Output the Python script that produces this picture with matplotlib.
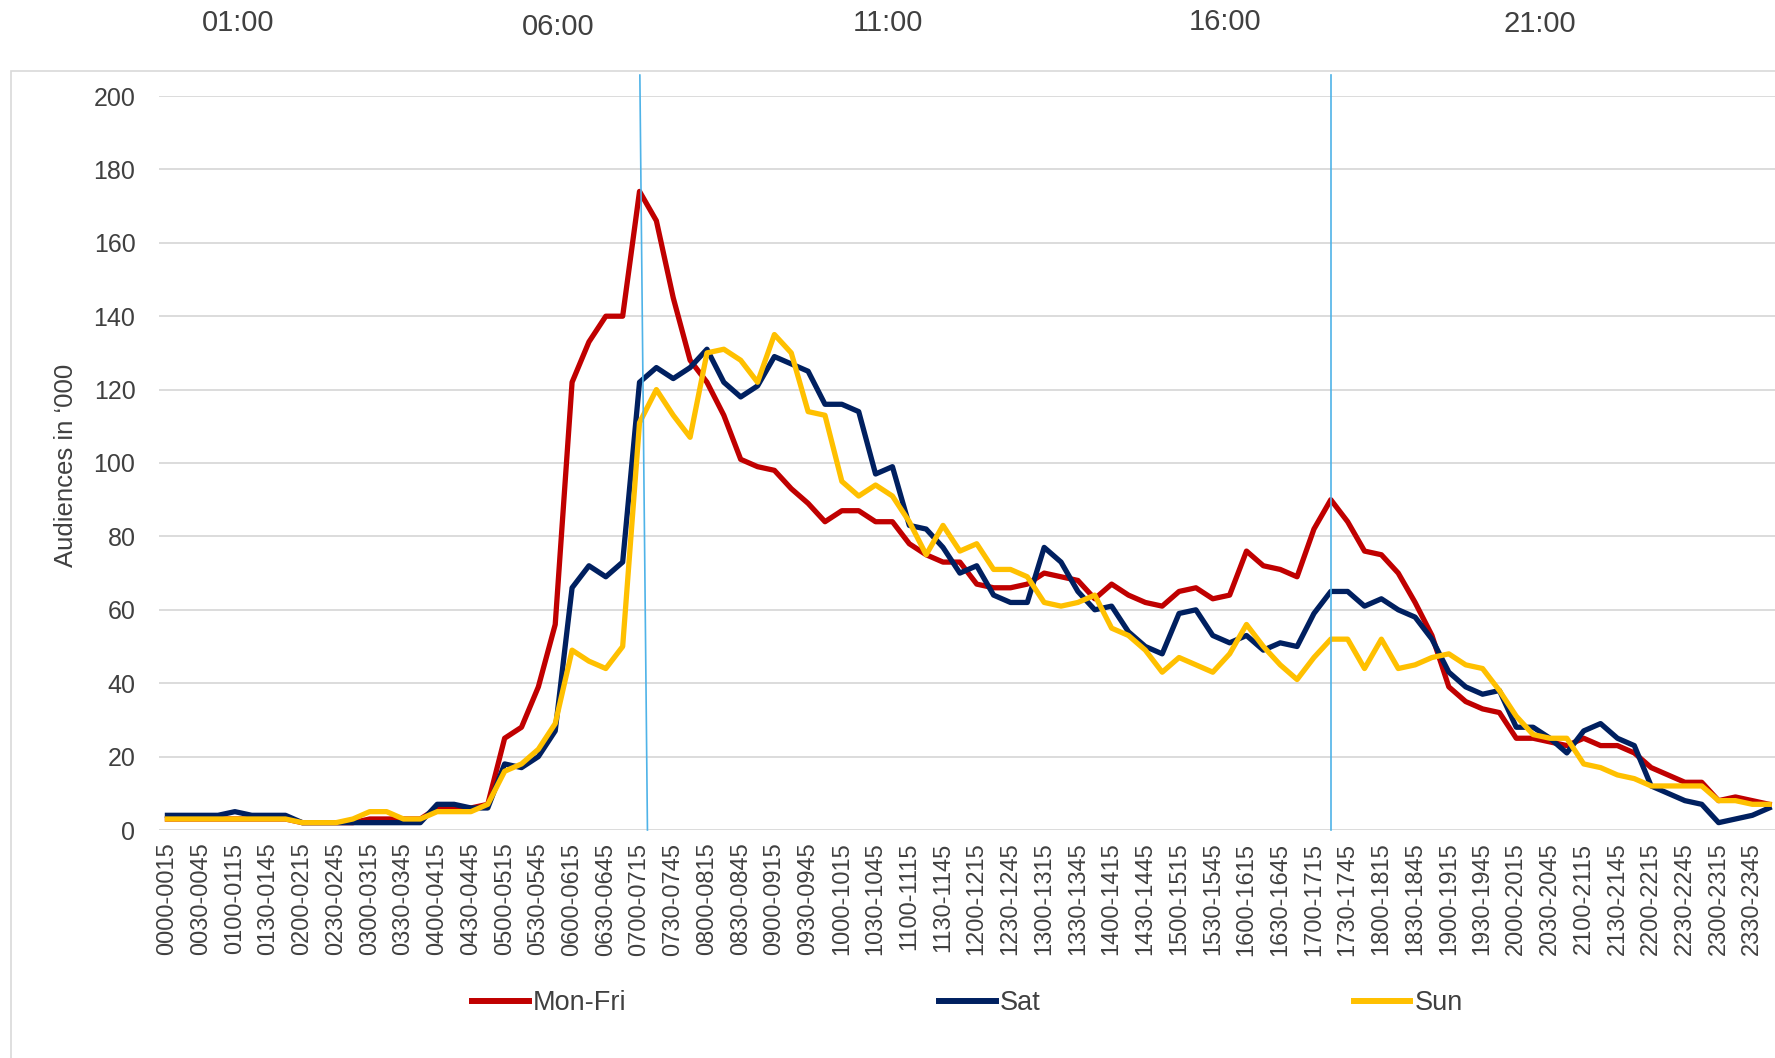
import matplotlib
matplotlib.use("Agg")
import matplotlib.pyplot as plt
from matplotlib import font_manager
from matplotlib.patches import Rectangle

# quarter-hour slots, 0000-0015 ... 2345-2400
slots = ["%02d%02d-%02d%02d" % (h, m, h + (m + 15) // 60, (m + 15) % 60)
         for h in range(24) for m in (0, 15, 30, 45)]
slots[-1] = "2345-2400"

mon_fri = [3, 3, 3, 3, 3, 3, 3, 3, 2, 2, 2, 2, 3, 3, 3, 3,
           6, 6, 6, 7, 25, 28, 39, 56, 122, 133, 140, 140, 174, 166, 145, 128,
           122, 113, 101, 99, 98, 93, 89, 84, 87, 87, 84, 84, 78, 75, 73, 73,
           67, 66, 66, 67, 70, 69, 68, 63, 67, 64, 62, 61, 65, 66, 63, 64,
           76, 72, 71, 69, 82, 90, 84, 76, 75, 70, 62, 53, 39, 35, 33, 32,
           25, 25, 24, 23, 25, 23, 23, 21, 17, 15, 13, 13, 8, 9, 8, 7]
sat = [4, 4, 4, 4, 5, 4, 4, 4, 2, 2, 2, 2, 2, 2, 2, 2,
       7, 7, 6, 6, 18, 17, 20, 27, 66, 72, 69, 73, 122, 126, 123, 126,
       131, 122, 118, 121, 129, 127, 125, 116, 116, 114, 97, 99, 83, 82, 77, 70,
       72, 64, 62, 62, 77, 73, 65, 60, 61, 54, 50, 48, 59, 60, 53, 51,
       53, 49, 51, 50, 59, 65, 65, 61, 63, 60, 58, 52, 43, 39, 37, 38,
       28, 28, 25, 21, 27, 29, 25, 23, 12, 10, 8, 7, 2, 3, 4, 6]
sun = [3, 3, 3, 3, 3, 3, 3, 3, 2, 2, 2, 3, 5, 5, 3, 3,
       5, 5, 5, 7, 16, 18, 22, 29, 49, 46, 44, 50, 111, 120, 113, 107,
       130, 131, 128, 122, 135, 130, 114, 113, 95, 91, 94, 91, 84, 75, 83, 76,
       78, 71, 71, 69, 62, 61, 62, 64, 55, 53, 49, 43, 47, 45, 43, 48,
       56, 50, 45, 41, 47, 52, 52, 44, 52, 44, 45, 47, 48, 45, 44, 38,
       31, 26, 25, 25, 18, 17, 15, 14, 12, 12, 12, 12, 8, 8, 7, 7]

hour_labels = ["01:00", "06:00", "11:00", "16:00", "21:00"]
hour_label_px = [(238, 23), (558, 27), (888, 23), (1225, 22), (1540, 24)]

names = {f.name for f in font_manager.fontManager.ttflist}
if "Liberation Sans Narrow" in names:
    narrow, narrow_size = "Liberation Sans Narrow", 26
else:
    narrow, narrow_size = "Liberation Sans", 21

plt.rcParams["font.family"] = ["Liberation Sans", "DejaVu Sans"]
txt = "#404040"
W, H = 1775, 1058

fig = plt.figure(figsize=(W / 100, H / 100), dpi=100)

# outer chart frame
fig.patches.append(Rectangle((11 / W, -0.05), 1.2, 1 - 71 / H + 0.05,
                             transform=fig.transFigure, fill=False,
                             edgecolor="#D9D9D9", lw=1.2))

ax = fig.add_axes([159 / W, 1 - 830 / H, (1777.6 - 159) / W, (830 - 96) / H])
x = list(range(len(slots)))

ax.plot(x, mon_fri, color="#C00000", lw=3.8, solid_joinstyle="round", label="Mon-Fri", zorder=3)
ax.plot(x, sat, color="#002060", lw=3.8, solid_joinstyle="round", label="Sat", zorder=4)
ax.plot(x, sun, color="#FFC000", lw=3.8, solid_joinstyle="round", label="Sun", zorder=5)

# marker lines
ax.plot([28.02, 28.47], [205.7, 0], color="#4FB3E8", lw=1.2, clip_on=False, zorder=6)
ax.plot([69.0, 69.0], [205.7, 0], color="#4FB3E8", lw=1.2, clip_on=False, zorder=6)

ax.set_xlim(-0.5, len(slots) - 0.5)
ax.set_ylim(0, 200)
ax.set_yticks(range(0, 201, 20))
ax.set_xticks(x[::2])
ax.set_xticklabels(slots[::2], rotation=90, ha="center", va="top")
ax.tick_params(axis="x", length=0, pad=9, labelsize=17, labelcolor=txt)
ax.tick_params(axis="y", length=0, pad=17, labelsize=18, labelcolor=txt)
ax.grid(axis="y", color="#D9D9D9", lw=1.3, zorder=0)
ax.set_axisbelow(True)
for s in ax.spines.values():
    s.set_visible(False)

fig.text(66 / W, 1 - 465 / H, "Audiences in \u2018000", rotation=90,
         ha="center", va="center", fontsize=18.5, color=txt)

for lab, (px, py) in zip(hour_labels, hour_label_px):
    fig.text(px / W, 1 - py / H, lab, ha="center", va="center",
             fontsize=narrow_size, color=txt, family=narrow)

leg = fig.legend(loc="center left", bbox_to_anchor=(471.7 / W, 1 - 1003 / H), ncol=3,
                 frameon=False, borderpad=0, borderaxespad=0, handlelength=2.1,
                 handletextpad=0.15, columnspacing=11.55, fontsize=19.5, labelcolor=txt)
for h in leg.legend_handles:
    h.set_linewidth(4.3)

fig.savefig("out.png", dpi=100)
